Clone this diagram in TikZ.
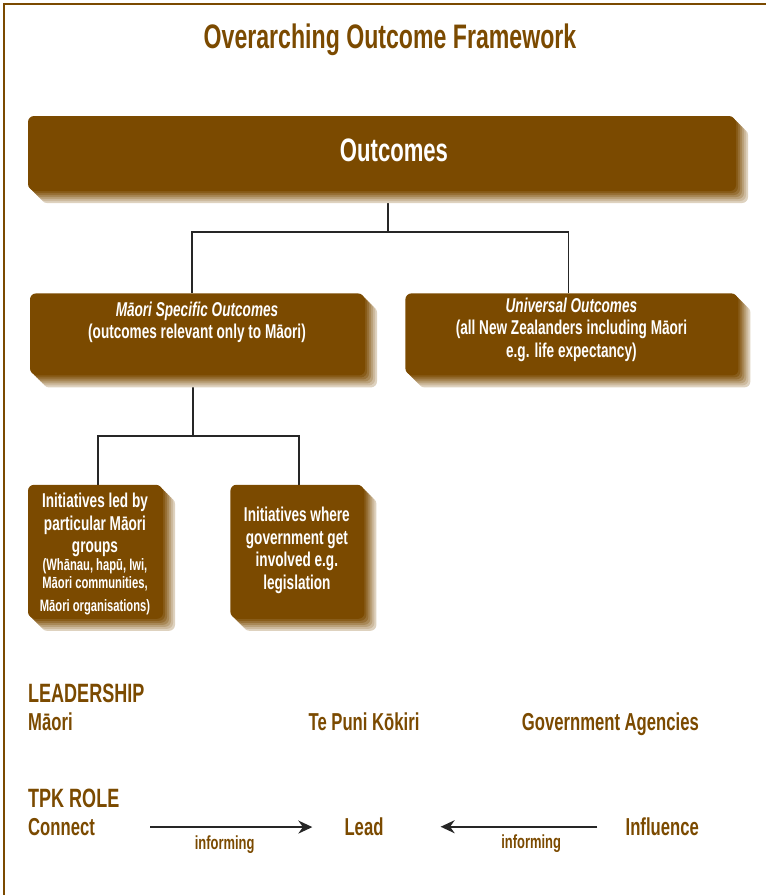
\documentclass[tikz,border=0pt]{standalone}
\usepackage{fontspec}
\setmainfont{Liberation Sans}[FakeStretch=0.68]
\usetikzlibrary{positioning,shadows,arrows.meta,backgrounds}
\definecolor{tpkbrown}{HTML}{7B4A00}

\newcommand{\tpktitle}{\fontsize{34}{38}\selectfont\bfseries}
\newcommand{\tpkbig}{\fontsize{32.5}{38}\selectfont\bfseries}
\newcommand{\tpkmid}{\fontsize{20}{22.5}\selectfont\bfseries}
\newcommand{\tpksmall}{\fontsize{16.5}{18}\selectfont}
\newcommand{\tpkhead}{\fontsize{26.5}{30}\selectfont\bfseries}
\newcommand{\tpkrow}{\fontsize{24.5}{28}\selectfont\bfseries}
\newcommand{\tpkinfo}{\fontsize{19}{22}\selectfont\bfseries}

\tikzset{extrude/.style 2 args={
  general shadow={fill=tpkbrown!#2!white, shadow xshift=#1, shadow yshift=-#1},
  }
}
\tikzset{outbox/.style={
  fill=tpkbrown,
  rounded corners=6pt,
  text=white,
  inner sep=0pt,
  align=flush center,
  extrude={13pt}{25},
  extrude={11pt}{38},
  extrude={9pt}{52},
  extrude={7pt}{66},
  extrude={5pt}{79},
  extrude={3pt}{90},
  extrude={1pt}{100},
  }
}
\tikzset{
  frameline/.style={draw=tpkbrown, line width=2.5pt},
  titletext/.style={text=tpkbrown, font=\tpktitle, inner sep=0pt},
  headtext/.style={text=tpkbrown, font=\tpkhead, inner sep=0pt},
  rowtext/.style={text=tpkbrown, font=\tpkrow, inner sep=0pt},
  infotext/.style={text=tpkbrown, font=\tpkinfo, inner sep=0pt},
  link/.style={draw=black!85, line width=1.8pt},
  flow/.style={draw=black!85, line width=2pt, -{Stealth[length=14pt, width=13pt]}},
}

\begin{document}
\begin{tikzpicture}[x=1pt,y=1pt]
  \useasboundingbox (0,0) rectangle (766,-895);
  \draw[frameline] (4,-895) -- (4,-4) -- (766,-4);

  \node[titletext, anchor=base] (title) at (390,-48) {Overarching Outcome Framework};

  % outcome boxes
  \node[outbox, text width=707pt, text height=45.5pt, text depth=28.5pt, font=\tpkbig]
    (outcomes) at (381.5,-153) {\hspace*{25pt}Outcomes};
  \node[outbox, below=103pt of outcomes.south west, anchor=north west, xshift=2pt,
    text width=334pt, text height=23pt, text depth=58pt, font=\tpkmid] (maori)
    {\textit{Māori Specific Outcomes}\\(outcomes relevant only to Māori)};
  \node[outbox, right=41pt of maori.north east, anchor=north west,
    text width=332pt, text height=19pt, text depth=62pt, font=\tpkmid] (universal)
    {\textit{Universal Outcomes}\\(all New Zealanders including Māori\\e.g. life expectancy)};

  \node[outbox, below=110pt of maori.south west, anchor=north west, xshift=-2pt,
    text width=134pt, text height=23pt, text depth=110pt, font=\tpkmid] (groups)
    {Initiatives led by\\particular Māori\\groups\\\tpksmall (Whānau, hapū, Iwi,\\Māori communities,\\Māori organisations)};
  \node[outbox, right=68pt of groups.north east, anchor=north west,
    text width=133pt, text height=37pt, text depth=96pt, font=\tpkmid] (govt)
    {Initiatives where\\government get\\involved e.g.\\legislation};

  \begin{scope}[on background layer]
    \coordinate (split) at ([xshift=6.5pt, yshift=-42pt]outcomes.south);
    \coordinate (split2) at ([xshift=-4pt, yshift=-61pt]maori.south);
    \draw[link] (outcomes.south -| split) -- (split) -| ([xshift=-5pt]maori.north);
    \draw[link] (split) -| ([xshift=-3pt]universal.north);
    \draw[link] (maori.south -| split2) -- (split2) -| ([xshift=3pt]groups.north);
    \draw[link] (split2) -| ([xshift=2pt]govt.north);
  \end{scope}

  % leadership and role rows
  \node[headtext, anchor=base west] (leadhead) at (28,-702.5) {LEADERSHIP};
  \node[rowtext, anchor=base west] (maorilead) at ([yshift=-27.5pt]leadhead.base west) {Māori};
  \node[rowtext, anchor=base] (tpklead) at (364,-730) {Te Puni Kōkiri};
  \node[rowtext, anchor=base east] (govlead) at (699,-730) {Government Agencies};

  \node[headtext, anchor=base west] (rolehead) at (28,-807.5) {TPK ROLE};
  \node[rowtext, anchor=base west] (connect) at ([yshift=-28pt]rolehead.base west) {Connect};
  \node[rowtext, anchor=base] (lead) at (tpklead.base |- connect.base) {Lead};
  \node[rowtext, anchor=base east] (influence) at (govlead.base east |- connect.base) {Influence};

  \draw[flow, shorten <=55pt, shorten >=32pt] (connect.east) -- (connect.east -| lead.west)
    node[infotext, pos=0.52, anchor=base, yshift=-22pt] (inform1) {informing};
  \draw[flow, shorten <=28pt, shorten >=57pt] (influence.west) -- (influence.west -| lead.east)
    node[infotext, pos=0.39, anchor=base, yshift=-22pt] (inform2) {informing};
\end{tikzpicture}
\end{document}
